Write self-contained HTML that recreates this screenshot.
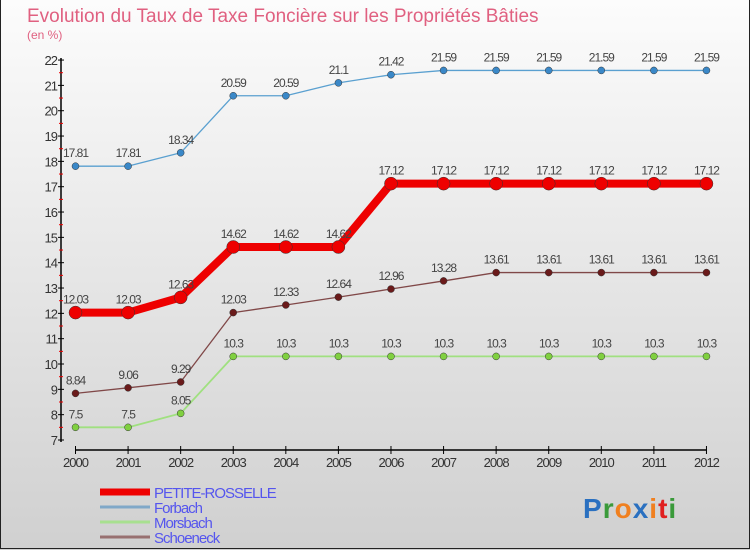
<!DOCTYPE html>
<html><head><meta charset="utf-8"><style>
body{margin:0}
#wrap{width:750px;height:550px;position:relative;overflow:hidden;background:linear-gradient(#fcfcfc,#d0d0d0);font-family:"Liberation Sans",sans-serif}
#frame{position:absolute;left:0;top:0;width:748px;height:548px;border:1px solid #222;border-top:none}
</style></head><body>
<div id="wrap">
<div id="frame"></div>
<svg id="svg" width="750" height="550" style="position:absolute;left:0;top:0">
<text x="27" y="22" font-size="19" fill="#e06080">Evolution du Taux de Taxe Foncière sur les Propriétés Bâties</text>
<text x="27" y="39" font-size="12" fill="#e06080">(en %)</text>
</svg>
</div>
<script>
const years=[2000,2001,2002,2003,2004,2005,2006,2007,2008,2009,2010,2011,2012];
const petite=[12.03,12.03,12.63,14.62,14.62,14.62,17.12,17.12,17.12,17.12,17.12,17.12,17.12];
const forbach=[17.81,17.81,18.34,20.59,20.59,21.1,21.42,21.59,21.59,21.59,21.59,21.59,21.59];
const morsbach=[7.5,7.5,8.05,10.3,10.3,10.3,10.3,10.3,10.3,10.3,10.3,10.3,10.3];
const schoeneck=[8.84,9.06,9.29,12.03,12.33,12.64,12.96,13.28,13.61,13.61,13.61,13.61,13.61];
const yTicks=[7,8,9,10,11,12,13,14,15,16,17,18,19,20,21,22];
const NS="http://www.w3.org/2000/svg";
const svg=document.getElementById('svg');
const X=y=>75.5+(y-2000)*52.58;
const Y=v=>440-(v-7)*25.33;
function mk(t,a,p){const e=document.createElementNS(NS,t);for(const k in a)e.setAttribute(k,a[k]);(p||svg).appendChild(e);return e;}
let ax=mk('line',{x1:61,y1:58,x2:61,y2:442,stroke:'#000','stroke-width':1.5});


yTicks.forEach(v=>{
 let t=mk('line',{x1:58,x2:64,y1:Y(v),y2:Y(v),stroke:'#000'});
 
 
 if(v<22){let m=mk('line',{x1:59,x2:63,y1:Y(v+0.5),y2:Y(v+0.5),stroke:'#e00'});
 
 }
 let l=mk('text',{x:57,y:Y(v)+5,'text-anchor':'end','font-size':13,fill:'#333','letter-spacing':'-1'});
 l.textContent=v;
 
 
});
let xa=mk('line',{x1:75,y1:450,x2:707,y2:450,stroke:'#000','stroke-width':1.5});


years.forEach(y=>{
 let t=mk('line',{x1:X(y),x2:X(y),y1:446,y2:454,stroke:'#000'});
 
 
 let l=mk('text',{x:X(y),y:467,'text-anchor':'middle','font-size':13,fill:'#333','letter-spacing':'-1'});
 l.textContent=y;
 
 
});
function series(vals,color,w,r,name,dot){
 const g=mk('g',{});
 
 
 let p=mk('polyline',{points:vals.map((v,i)=>X(years[i])+','+Y(v)).join(' '),fill:'none',stroke:color,'stroke-width':w,'stroke-linejoin':'round'},g);
 
 
 vals.forEach((v,i)=>{
  let c=mk('circle',{cx:X(years[i]),cy:Y(v),r:r,fill:dot,stroke:'#333','stroke-width':0.5},g);
  
  
  let t=mk('text',{x:X(years[i]),y:Y(v)-9,'text-anchor':'middle','font-size':12,fill:'#444','letter-spacing':'-1'},g);
  t.textContent=v;
  
  
 });
}
series(forbach,'#5aa0d0',1.3,3.5,'forbach','#3a88c8');
series(morsbach,'#a0e080',1.8,3.5,'morsbach','#80d040');
series(schoeneck,'#804848',1.3,3.5,'schoeneck','#6a1a1a');
series(petite,'#ee0000',8,6.5,'petite-rosselle','#ee0000');
const leg=[['PETITE-ROSSELLE','#ee0000',7],['Forbach','#80a8c8',3],['Morsbach','#a8e090',3],['Schoeneck','#987070',3]];
leg.forEach((d,i)=>{
 const yy=492+i*15;
 let l=mk('line',{x1:100,x2:150,y1:yy,y2:yy,stroke:d[1],'stroke-width':d[2]});
 
 
 let t=mk('text',{x:154,y:yy+6,'font-size':15,fill:'#5555ee','letter-spacing':'-1'});
 t.textContent=d[0];
 
 
});
const lg=mk('text',{x:583,y:518,'font-size':28,'font-weight':'bold','letter-spacing':'1'});


[['P','#2a70c0'],['r','#3a9a3a'],['o','#f08020'],['x','#2a70c0'],['i','#f08020'],['t','#e02020'],['i','#3a9a3a']].forEach(c=>{let s=mk('tspan',{fill:c[1]},lg);s.textContent=c[0];});
</script>
</body></html>
